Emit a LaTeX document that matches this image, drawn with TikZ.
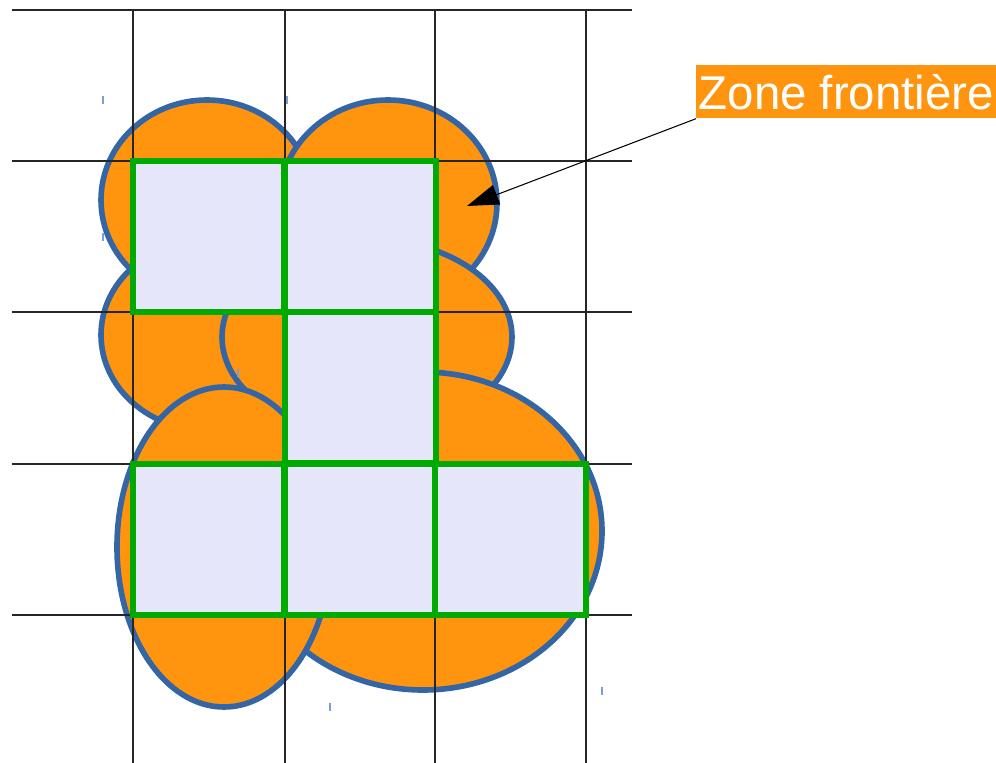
\documentclass[tikz,border=0pt]{standalone}
\usepackage{fontspec}
\setsansfont{Liberation Sans}
\usetikzlibrary{arrows.meta}
\definecolor{blobfill}{HTML}{FF950E}
\definecolor{blobline}{HTML}{3465A4}
\definecolor{cellline}{HTML}{00AA00}
\definecolor{cellfill}{HTML}{E6E6FA}
\definecolor{markblue}{HTML}{7A9FD0}

\begin{document}
\begin{tikzpicture}[x=0.02cm,y=-0.02cm,line cap=butt,line join=miter,
  blob/.style={fill=blobfill,draw=blobline,line width=3.2pt},
  gridline/.style={line width=0.6pt,black!85},
  cell/.style={fill=cellfill,draw=cellline,line width=3.2pt},
  tickmark/.style={draw=markblue,line width=1.1pt},
  pointer/.style={line width=0.6pt,-{Triangle[length=18pt,width=11.7pt]}},
  zonelabel/.style={fill=blobfill,text=white,font=\sffamily\fontsize{27}{32}\selectfont,
    minimum width=6cm,minimum height=1.06cm,inner sep=0pt,anchor=north west}]
\useasboundingbox (0,0) rectangle (996,763);
\draw[blob] (207,200) ellipse (106 and 100);
\draw[blob] (388,203) ellipse (109 and 103);
\draw[blob] (210,335) ellipse (109 and 96);
\draw[blob] (367,337) ellipse (145 and 98);
\draw[blob] (423,531) ellipse (179 and 159);
\draw[blob] (224,547) ellipse (107 and 160);
\foreach \gx in {133,285,435,586}
  \draw[gridline] (\gx,10) -- (\gx,763);
\foreach \gy in {10,161,312,464,615}
  \draw[gridline] (12,\gy) -- (632,\gy);
\foreach \cx/\cy in {133/161,285/161,285/312,133/464,285/464,435/464}
  \draw[cell] (\cx,\cy) rectangle ++(151,151);
\foreach \mx/\my in {103/100,287/100,103/237,238/373,330/707,602/691}
  \draw[tickmark] (\mx,\my-4) -- (\mx,\my+4);
\node[zonelabel] (zone) at (696,65) {Zone frontière};
\coordinate (tip) at (467,206);
\draw[pointer] (zone.south west) -- (tip);
\end{tikzpicture}
\end{document}
